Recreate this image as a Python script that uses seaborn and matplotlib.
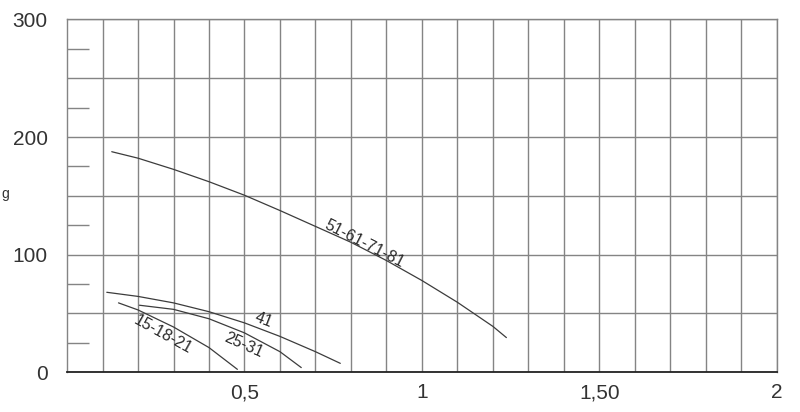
import numpy as np
import pandas as pd
import matplotlib
matplotlib.use("Agg")
import matplotlib.pyplot as plt
import seaborn as sns

# curve data
big_x = [0.126, 0.2, 0.3, 0.4, 0.5, 0.6, 0.7, 0.8, 0.9, 1.0, 1.1, 1.2, 1.238]
big_y = [187.5, 182, 172.5, 162, 150.5, 137.5, 124, 110.5, 95, 78, 59.5, 39, 29.5]

c41_x = [0.112, 0.2, 0.3, 0.4, 0.5, 0.6, 0.7, 0.77]
c41_y = [68, 64.5, 59, 51.5, 42, 30.5, 17.5, 7.6]

c2531_x = [0.204, 0.3, 0.4, 0.5, 0.6, 0.66]
c2531_y = [57, 53.5, 45.5, 33.5, 17.5, 4]

c1521_x = [0.145, 0.2, 0.3, 0.4, 0.48]
c1521_y = [59, 53, 38.5, 21, 2.5]

curve_names = ["51-61-71-81", "41", "25-31", "15-18-21"]
label_x = [0.839, 0.553, 0.497, 0.271]
label_y = [109.6, 44.4, 23.2, 31.7]
label_rot = [-27, -21, -24, -29]

xtick_vals = [0.5, 1, 1.5, 2]
xtick_labels = ["0,5", "1", "1,50", "2"]
ytick_vals = [0, 50, 100, 150, 200, 250, 300]
ytick_labels = ["0", "", "100", "", "200", "", "300"]

frames = []
for name, xs, ys in zip(curve_names,
                        [big_x, c41_x, c2531_x, c1521_x],
                        [big_y, c41_y, c2531_y, c1521_y]):
    frames.append(pd.DataFrame({"x": xs, "y": ys, "curve": name}))
df = pd.concat(frames, ignore_index=True)

sns.set_style("white")
plt.rcParams['font.family'] = ['Liberation Sans', 'DejaVu Sans']

fig, ax = plt.subplots(figsize=(8, 4.12), dpi=100)
fig.subplots_adjust(left=0.0838, right=0.971, bottom=0.0964, top=0.953)

for name in curve_names:
    sub = df[df["curve"] == name]
    sns.lineplot(data=sub, x="x", y="y", ax=ax, color="#3c3c3c", lw=0.9,
                 sort=False, estimator=None)

for name, lx, ly, r in zip(curve_names, label_x, label_y, label_rot):
    ax.text(lx, ly, name, rotation=r, rotation_mode="anchor", ha="center",
            va="center", fontsize=11.5, color="#2a2a2a")

ax.set_xlim(0, 2)
ax.set_ylim(0, 300)
ax.set_xticks(np.arange(0.1, 2.0, 0.1), minor=True)
ax.set_xticks(xtick_vals, labels=xtick_labels)
ax.set_yticks(ytick_vals, labels=ytick_labels)
ax.set_yticks(np.arange(25, 300, 50), minor=True)
ax.grid(axis="x", which="both", color="#848484", lw=1)
ax.grid(axis="y", which="major", color="#848484", lw=1)
ax.set_axisbelow(True)

ax.tick_params(axis="x", which="both", length=0, pad=8, labelsize=15, labelcolor="#333333")
ax.tick_params(axis="y", which="major", length=0, pad=14, labelsize=15, labelcolor="#333333")
ax.tick_params(axis="y", which="minor", direction="in", length=16, width=1,
               color="#848484", left=True)

ax.set_xlabel("")
ax.set_ylabel("")
for s in ["left", "top", "right"]:
    ax.spines[s].set_color("#848484")
    ax.spines[s].set_linewidth(1)
ax.spines["bottom"].set_color("#222222")
ax.spines["bottom"].set_linewidth(1.3)

fig.text(0.002, 0.529, "g", fontsize=10, color="#333333", va="center")

fig.savefig("out.png", dpi=100)
